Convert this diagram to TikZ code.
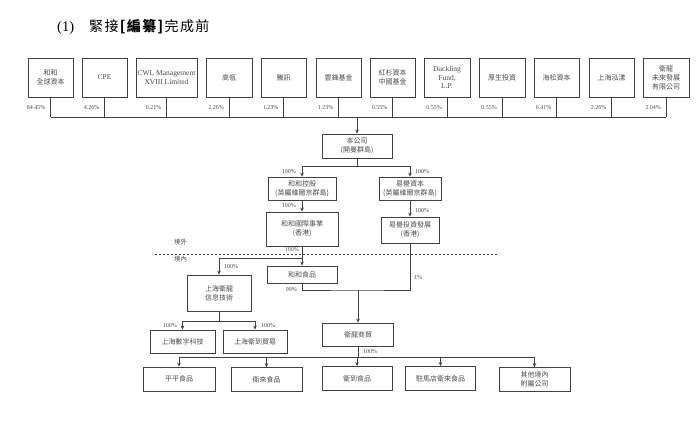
\documentclass[tikz,border=0pt]{standalone}
\usepackage{fontspec}
\setmainfont{Liberation Serif}
\newfontfamily\cjk{Noto Sans CJK TC}
\newfontfamily\cjktitle[LetterSpace=10]{Noto Sans CJK TC}
\usetikzlibrary{arrows.meta}
\definecolor{ln}{HTML}{404040}
\definecolor{tx}{HTML}{4A4A4A}
\tikzset{
  box/.style={draw=ln, line width=0.8pt, inner sep=1pt, align=center, text=tx, font=\cjk\fontsize{7}{9}\selectfont},
  latinbox/.style={box, font=\fontsize{7.5}{8.5}\selectfont},
  pct/.style={text=tx, font=\fontsize{6}{7}\selectfont, inner sep=1pt},
  con/.style={draw=ln, line width=0.7pt},
  arr/.style={con, -{Stealth[length=4pt,width=3.6pt]}},
  lbl/.style={text=tx, font=\cjk\fontsize{6.5}{7.5}\selectfont, inner sep=0pt}
}
\begin{document}
\begin{tikzpicture}[x=1pt,y=-1pt]
\useasboundingbox (0,0) rectangle (700,420);
% title
\node[anchor=west, inner sep=0pt, font=\fontsize{14.5}{16}\selectfont] (title) at (57,27)
  {(1)\hspace{15pt}{\cjktitle\fontsize{14}{16}\selectfont 緊接\textbf{[編纂]}完成前}};
% top row shareholders
\tikzset{top/.style={box, minimum height=39pt, minimum width=45pt}}
\node[top] (b1) at (50.5,77.5) {和和\\全球資本};
\node[latinbox, minimum height=39pt, minimum width=45pt] (b2) at (104.5,77.5) {CPE};
\node[latinbox, minimum height=39pt, minimum width=61pt] (b3) at (166.5,77.5) {CWL Management\\XVIII Limited};
\node[top, minimum width=46pt] (b4) at (229,77.5) {高瓴};
\node[top] (b5) at (283.5,77.5) {騰訊};
\node[top] (b6) at (338.5,77.5) {雲鋒基金};
\node[top] (b7) at (392.5,77.5) {紅杉資本\\中國基金};
\node[latinbox, minimum height=39pt, minimum width=46pt] (b8) at (447,77.5) {Duckling\\Fund,\\L.P.};
\node[top, minimum width=46pt] (b9) at (502,77.5) {厚生投資};
\node[top] (b10) at (556.5,77.5) {海松資本};
\node[top] (b11) at (611.5,77.5) {上海泓漾};
\node[top, minimum width=46pt] (b12) at (666,77.5) {衛龍\\未來發展\\有限公司};
\coordinate (bar) at (0,117);
\foreach \i/\p in {1/84.45\%,2/4.26\%,3/0.21\%,4/2.26\%,5/1.23\%,6/1.23\%,7/0.55\%,8/0.55\%,9/0.55\%,10/6.41\%,11/2.26\%,12/2.04\%}{
  \draw[con] (b\i.south) -- (b\i.south |- bar);
  \node[pct, anchor=east] at ([xshift=-4pt]b\i.south |- 0,108) {\p};
}
\draw[con] (b1.south |- bar) -- (b12.south |- bar);
% company
\node[box, minimum width=70pt, minimum height=24pt] (co) at (357,146) {本公司\\(開曼群島)};
\coordinate (cotop) at (357,117);
\draw[arr] (cotop) -- (co.north);
% BVI level
\node[box, minimum width=68pt, minimum height=23pt] (hhk) at (302,188.5) {和和控股\\(英屬維爾京群島)};
\node[box, minimum width=62pt, minimum height=23pt] (yyc) at (410,188.5) {易譽資本\\(英屬維爾京群島)};
\draw[arr] (co.south) -- ++(0,8) -| (hhk.north);
\draw[arr] (co.south) -- ++(0,8) -| (yyc.north);
\node[pct, anchor=east] at (297,172) {100\%};
\node[pct, anchor=west] at (414,172) {100\%};
% HK level
\node[box, minimum width=72pt, minimum height=34pt] (hhi) at (302,229) {和和國際事業\\(香港)};
\node[box, minimum width=58pt, minimum height=26pt] (yyi) at (410,230) {易譽投資發展\\(香港)};
\draw[arr] (hhk.south) -- (hhi.north);
\draw[arr] (yyc.south) -- (yyi.north);
\node[pct, anchor=east] at (297,206) {100\%};
\node[pct, anchor=west] at (414,211) {100\%};
% border
\draw[ln, line width=0.6pt, dash pattern=on 2pt off 2pt] (155,254) -- (499,254);
\node[lbl, anchor=west] (out) at (174,242) {境外};
\node[lbl, anchor=west] (in) at (174,259) {境內};
% onshore
\node[box, minimum width=70pt, minimum height=17pt] (hhf) at (302,274.5) {和和食品};
\node[box, minimum width=64pt, minimum height=36pt] (shw) at (219,293) {上海衛龍\\信息技術};
\draw[arr] (hhi.south) -- (hhf.north);
\draw[arr] (hhi.south) -- ++(0,12) -| (shw.north);
\node[pct, anchor=east] at (300,250) {100\%};
\node[pct, anchor=west] at (223,267) {100\%};
\node[box, minimum width=71pt, minimum height=23pt] (wls) at (358,334.5) {衛龍商貿};
\coordinate (j) at (358,290);
\draw[con] (hhf.south) |- (j) -| (yyi.south);
\draw[arr] (j) -- (wls.north);
\node[pct, anchor=east] at (298,290) {99\%};
\node[pct, anchor=west] at (413,278) {1\%};
% shanghai subs
\node[box, minimum width=65pt, minimum height=23pt] (shs) at (182.5,341.5) {上海數字科技};
\node[box, minimum width=64pt, minimum height=23pt] (sht) at (255,341.5) {上海衛到貿易};
\draw[arr] (shw.south) -- ++(0,10) -| (shs.north);
\draw[arr] (shw.south) -- ++(0,10) -| (sht.north);
\node[pct, anchor=east] at (178,326) {100\%};
\node[pct, anchor=west] at (260,326) {100\%};
% bottom row
\tikzset{bot/.style={box, minimum height=24pt, minimum width=70pt}}
\node[bot, minimum width=72pt] (p1) at (179,379) {平平食品};
\node[bot, minimum width=71pt] (p2) at (266.5,379.5) {衛來食品};
\node[bot] (p3) at (357,378.5) {衛到食品};
\node[bot] (p4) at (440.5,378.5) {駐馬店衛來食品};
\node[bot, minimum width=71pt] (p5) at (534.5,379.5) {其他境內\\附屬公司};
\foreach \k in {1,...,5}{
  \draw[arr] (wls.south) -- ++(0,11) -| (p\k.north);
}
\node[pct, anchor=west] at (362,352) {100\%};
\end{tikzpicture}
\end{document}
